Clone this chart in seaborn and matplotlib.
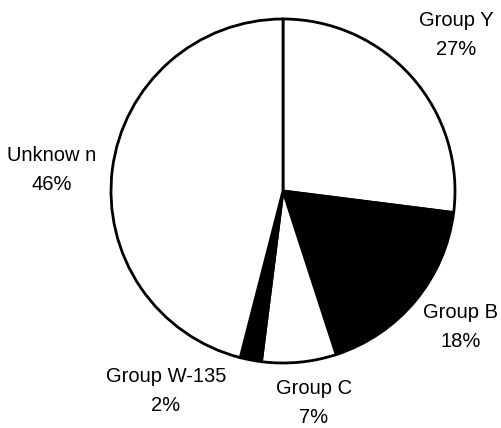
import matplotlib
matplotlib.use("Agg")
import matplotlib.pyplot as plt
import seaborn as sns

categories = ["Group Y", "Group B", "Group C", "Group W-135", "Unknow n"]
values = [27, 18, 7, 2, 46]
fill_colors = ["white", "black", "white", "black", "white"]

sns.set_theme(style="white")
plt.rcParams['font.family'] = ['Liberation Sans', 'DejaVu Sans']

fig = plt.figure(figsize=(5.02, 4.28), dpi=100)
ax = fig.add_axes([0, 0, 1, 1])

ax.pie(values, colors=fill_colors, startangle=90, counterclock=False,
       center=(283, 237), radius=172, frame=True,
       wedgeprops=dict(edgecolor='black', linewidth=2.0))
ax.set_xlim(0, 502)
ax.set_ylim(0, 428)
ax.set_aspect('equal')
ax.axis('off')

label_pos = [(456, 393), (461, 101), (314, 25), (166, 37), (52, 258)]
for cat, v, (x, y) in zip(categories, values, label_pos):
    ax.text(x, y, f"{cat}\n{v}%", ha='center', va='center', fontsize=14.5,
            linespacing=1.65, color='black')

fig.savefig("out.png", dpi=100)
